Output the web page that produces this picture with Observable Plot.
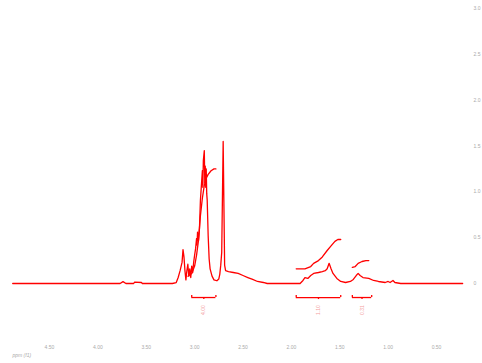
<!DOCTYPE html>
<html>
<head>
<meta charset="utf-8">
<script src="https://cdn.jsdelivr.net/npm/d3@7"></script>
<script src="https://cdn.jsdelivr.net/npm/@observablehq/plot@0.6"></script>
<style>
  html, body { margin: 0; padding: 0; background: #fff; }
  #chart svg { display: block; }
</style>
</head>
<body>
<div id="chart"></div>
<script>
// 1H NMR spectrum (ppm, intensity)
const specPpm = [4.88, 3.77, 3.74, 3.71, 3.63, 3.62, 3.55, 3.54, 3.23, 3.19, 3.17, 3.15, 3.13, 3.12, 3.11, 3.10, 3.09, 3.08, 3.07, 3.06, 3.05, 3.04, 3.03, 3.02, 3.01, 3.00, 2.99, 2.98, 2.975, 2.97, 2.96, 2.95, 2.94, 2.93, 2.92, 2.915, 2.91, 2.90, 2.895, 2.89, 2.885, 2.88, 2.875, 2.87, 2.86, 2.85, 2.84, 2.82, 2.80, 2.77, 2.75, 2.74, 2.73, 2.72, 2.705, 2.69, 2.68, 2.65, 2.60, 2.55, 2.50, 2.45, 2.40, 2.35, 2.29, 2.25, 1.91, 1.88, 1.86, 1.83, 1.80, 1.77, 1.72, 1.68, 1.65, 1.63, 1.61, 1.59, 1.57, 1.53, 1.49, 1.44, 1.39, 1.36, 1.33, 1.31, 1.29, 1.26, 1.20, 1.15, 1.10, 1.03, 1.00, 0.98, 0.95, 0.93, 0.87, 0.23];
const specInt = [0, 0, 0.02, 0, 0, 0.016, 0.011, 0, 0, 0.01, 0.065, 0.14, 0.23, 0.37, 0.29, 0.14, 0.04, 0.14, 0.21, 0.08, 0.16, 0.065, 0.19, 0.12, 0.23, 0.31, 0.38, 0.49, 0.42, 0.56, 0.47, 0.60, 0.91, 1.07, 1.23, 1.05, 1.34, 1.45, 1.10, 1.28, 1.05, 1.25, 0.98, 0.91, 0.52, 0.27, 0.16, 0.08, 0.04, 0.03, 0.05, 0.10, 0.20, 0.34, 1.55, 0.20, 0.14, 0.13, 0.12, 0.11, 0.087, 0.065, 0.044, 0.022, 0.011, 0, 0, 0.033, 0.065, 0.055, 0.087, 0.11, 0.12, 0.13, 0.14, 0.16, 0.22, 0.16, 0.11, 0.055, 0.022, 0.011, 0.022, 0.044, 0.087, 0.11, 0.087, 0.065, 0.055, 0.033, 0.022, 0.011, 0.022, 0.011, 0.033, 0.011, 0, 0];

// Integral curves
const int1Ppm = [3.07, 3.03, 3.00, 2.98, 2.96, 2.94, 2.92, 2.90, 2.88, 2.86, 2.83, 2.80, 2.78];
const int1Val = [0.08, 0.11, 0.19, 0.31, 0.47, 0.74, 0.93, 1.07, 1.15, 1.19, 1.23, 1.25, 1.25];
const int2Ppm = [1.95, 1.86, 1.80, 1.77, 1.72, 1.68, 1.63, 1.59, 1.55, 1.52, 1.49];
const int2Val = [0.16, 0.16, 0.185, 0.22, 0.25, 0.29, 0.36, 0.41, 0.46, 0.48, 0.48];
const int3Ppm = [1.37, 1.34, 1.31, 1.27, 1.23, 1.20];
const int3Val = [0.175, 0.185, 0.22, 0.24, 0.25, 0.25];

// Integration ranges and labels
const intFrom = [3.03, 1.95, 1.37];
const intTo = [2.78, 1.49, 1.17];
const intLabels = ["4.00", "1.10", "0.31"];

// Axis ticks
const xTicks = [4.5, 4.0, 3.5, 3.0, 2.5, 2.0, 1.5, 1.0, 0.5];
const yTicks = [0, 0.5, 1.0, 1.5, 2.0, 2.5, 3.0];

const toRows = (xs, ys) => xs.map((x, i) => ({x, y: ys[i]}));
const ranges = intFrom.map((a, i) => ({a, b: intTo[i], m: (a + intTo[i]) / 2, label: intLabels[i]}));

const red = "#ff0000";
const font = "'Liberation Sans', Arial, sans-serif";

const chart = Plot.plot({
  width: 482,
  height: 363,
  marginLeft: 0,
  marginRight: 11,
  marginTop: 0,
  marginBottom: 18,
  style: {fontFamily: font, fontSize: "5px", color: "#aaa", background: "#fff"},
  x: {domain: [5.0, 0.0], range: [0.6, 484.4]},
  y: {domain: [0, 3], range: [283, 8]},
  marks: [
    Plot.axisX({anchor: "bottom", ticks: xTicks, tickSize: 0, tickPadding: 0, tickFormat: d => d.toFixed(2), label: null, fill: "#aaa"}),
    Plot.axisY({anchor: "right", ticks: yTicks, tickSize: 0, tickPadding: 2, tickFormat: d => d === 0 ? "0" : d.toFixed(1), label: null, fill: "#aaa"}),
    Plot.text(["ppm (f1)"], {frameAnchor: "bottom-left", dx: 12, dy: 11, textAnchor: "start", fill: "#aaa", fontSize: 5, fontStyle: "italic"}),
    Plot.line(toRows(specPpm, specInt), {x: "x", y: "y", stroke: red, strokeWidth: 1.3}),
    Plot.line(toRows(int1Ppm, int1Val), {x: "x", y: "y", stroke: red, strokeWidth: 1.3}),
    Plot.line(toRows(int2Ppm, int2Val), {x: "x", y: "y", stroke: red, strokeWidth: 1.3}),
    Plot.line(toRows(int3Ppm, int3Val), {x: "x", y: "y", stroke: red, strokeWidth: 1.3}),
    Plot.ruleY(ranges, {x1: "a", x2: "b", y: -0.153, stroke: red, strokeWidth: 1.3}),
    Plot.ruleX(ranges, {x: "a", y1: -0.13, y2: -0.153, stroke: red, strokeWidth: 1.3}),
    Plot.ruleX(ranges, {x: "b", y1: -0.13, y2: -0.153, stroke: red, strokeWidth: 1.3}),
    Plot.ruleX(ranges, {x: "m", y1: -0.153, y2: -0.175, stroke: red, strokeWidth: 1.3}),
    Plot.text(ranges, {x: "m", y: -0.29, text: "label", rotate: -90, fill: "#f4a0a0", fontSize: 5})
  ]
});
document.getElementById("chart").appendChild(chart);
</script>
</body>
</html>
